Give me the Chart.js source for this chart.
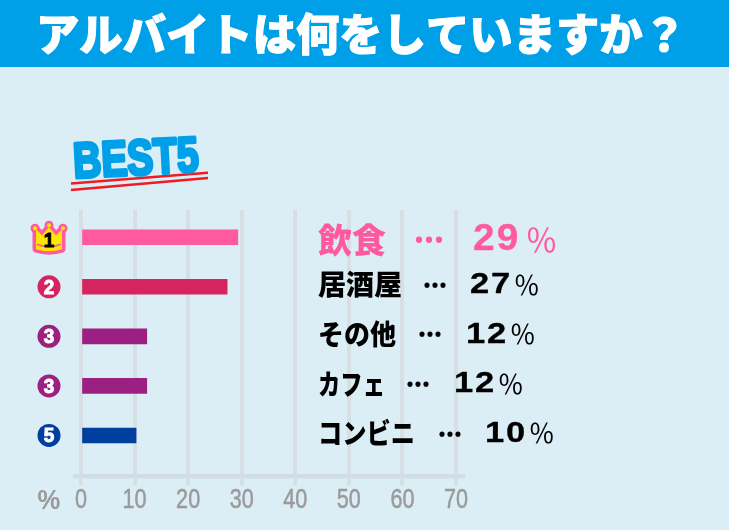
<!DOCTYPE html>
<html lang="ja">
<head>
<meta charset="utf-8">
<title>アルバイトは何をしていますか？</title>
<script src="https://cdn.jsdelivr.net/npm/chart.js@4"></script>
<style>
html, body { margin: 0; padding: 0; background: #dbeef6; }
#wrap { position: relative; width: 729px; height: 530px; overflow: hidden; }
</style>
</head>
<body>
<div id="wrap"><canvas id="chart" width="729" height="530"></canvas></div>
<script>
const titleText = 'アルバイトは何をしていますか？';
const bestText = 'BEST5';
const unitText = '%';
const categories = ['飲食', '居酒屋', 'その他', 'カフェ', 'コンビニ'];
const values = [29, 27, 12, 12, 10];
const ranks = [1, 2, 3, 3, 5];
const tickValues = [0, 10, 20, 30, 40, 50, 60, 70];

const barColors = ['#ff5a9e', '#d6245f', '#9c1f82', '#9c1f82', '#003f9e'];

// hand placed bits of each text row
const nameW = [69, 84, 78, 67, 97];
const dotsX = [414, 423, 418, 406, 438];
const numX = [473, 470, 466, 454, 485];
const gothic = '"Noto Sans CJK JP", sans-serif';
const latin = '"Liberation Sans", sans-serif';

// text squeezed sideways, the installed fonts have no condensed cut
function squeezed(ctx, text, x, y, sx, weight) {
    ctx.save();
    ctx.translate(x, y);
    ctx.scale(sx, 1);
    ctx.fillText(text, 0, 0);
    if (weight) {
        ctx.strokeStyle = ctx.fillStyle;
        ctx.lineWidth = weight;
        ctx.strokeText(text, 0, 0);
    }
    ctx.restore();
}

function drawCrown(ctx, cx, cy) {
    ctx.save();
    ctx.translate(cx, cy);
    const path = () => {
        ctx.beginPath();
        ctx.moveTo(-13, -9);
        ctx.lineTo(-7, -3);
        ctx.lineTo(0, -11);
        ctx.lineTo(7, -3);
        ctx.lineTo(13, -9);
        ctx.lineTo(13, 11);
        ctx.quadraticCurveTo(0, 15, -13, 11);
        ctx.closePath();
    };
    ctx.lineJoin = 'round';
    ctx.strokeStyle = '#ff5a9e';
    ctx.lineWidth = 7;
    path();
    ctx.stroke();
    [[-14, -10], [0, -13], [14, -10]].forEach(p => {
        ctx.fillStyle = '#ff5a9e';
        ctx.beginPath();
        ctx.arc(p[0], p[1], 4.5, 0, Math.PI * 2);
        ctx.fill();
        ctx.fillStyle = '#ffe600';
        ctx.beginPath();
        ctx.arc(p[0], p[1], 2, 0, Math.PI * 2);
        ctx.fill();
    });
    ctx.fillStyle = '#ffe600';
    path();
    ctx.fill();
    ctx.strokeStyle = '#ff5a9e';
    ctx.lineWidth = 1.5;
    ctx.beginPath();
    ctx.moveTo(-12, 6);
    ctx.quadraticCurveTo(0, 11, 12, 6);
    ctx.stroke();
    ctx.restore();
}

const decorPlugin = {
    id: 'decor',
    beforeDraw(chart) {
        const ctx = chart.ctx;
        ctx.save();
        ctx.fillStyle = '#dbeef6';
        ctx.fillRect(0, 0, chart.width, chart.height);
        ctx.fillStyle = '#00a0e9';
        ctx.fillRect(0, 0, chart.width, 67);
        ctx.fillStyle = '#ffffff';
        ctx.strokeStyle = '#ffffff';
        ctx.lineWidth = 1;
        ctx.font = '900 44px ' + gothic;
        ctx.textBaseline = 'middle';
        ctx.textAlign = 'left';
        ctx.fillText(titleText, 36, 34, 650);
        ctx.strokeText(titleText, 36, 34, 650);
        ctx.restore();

        // red scribble under BEST5
        ctx.save();
        ctx.strokeStyle = '#ee1c25';
        ctx.lineWidth = 2.6;
        ctx.beginPath();
        ctx.moveTo(71, 183.5);
        ctx.lineTo(208, 172.7);
        ctx.moveTo(71, 190);
        ctx.lineTo(208, 178);
        ctx.stroke();
        ctx.restore();

        ctx.save();
        ctx.translate(74, 178);
        ctx.rotate(-3 * Math.PI / 180);
        ctx.scale(0.78, 1);
        ctx.fillStyle = '#00a0e9';
        ctx.strokeStyle = '#00a0e9';
        ctx.lineWidth = 3.5;
        ctx.lineJoin = 'round';
        ctx.font = 'bold 50px ' + latin;
        ctx.textBaseline = 'alphabetic';
        ctx.fillText(bestText, 0, 0);
        ctx.strokeText(bestText, 0, 0);
        ctx.restore();
    },
    afterDraw(chart) {
        const ctx = chart.ctx;
        const y = chart.scales.y;
        const x = chart.scales.x;
        ctx.save();
        ctx.textBaseline = 'middle';
        ctx.textAlign = 'left';

        categories.forEach((name, i) => {
            const rowY = y.getPixelForValue(i);
            const first = i === 0;
            const textY = rowY + (first ? 2.5 : -2);
            ctx.fillStyle = first ? barColors[0] : '#000000';
            ctx.letterSpacing = '0px';
            ctx.font = '900 ' + (first ? 34 : 28) + 'px ' + gothic;
            ctx.fillText(name, 318, textY, nameW[i]);
            ctx.font = '900 ' + (first ? 30 : 24) + 'px ' + gothic;
            squeezed(ctx, '…', dotsX[i], textY, 1, 0.8);
            const sx = first ? 1.05 : 1.15;
            ctx.font = 'bold ' + (first ? 37 : 30) + 'px ' + latin;
            ctx.letterSpacing = (first ? 2 : 1.5) + 'px';
            squeezed(ctx, String(values[i]), numX[i], textY, sx, 0.3);
            const numW = ctx.measureText(String(values[i])).width * sx;
            ctx.letterSpacing = '0px';
            ctx.font = (first ? 32 : 26) + 'px ' + gothic;
            ctx.fillText('％', numX[i] + numW + (first ? 5 : 2), textY);

            // rank marks
            if (ranks[i] === 1) {
                drawCrown(ctx, 49, rowY + 1);
                ctx.fillStyle = '#000000';
            } else {
                ctx.fillStyle = barColors[i];
                ctx.beginPath();
                ctx.arc(49, rowY, 11.5, 0, Math.PI * 2);
                ctx.fill();
                ctx.fillStyle = '#ffffff';
            }
            ctx.textAlign = 'center';
            ctx.font = '900 21px ' + latin;
            squeezed(ctx, String(ranks[i]), 49, rowY + (ranks[i] === 1 ? 4 : 1), 0.9, 1);
            ctx.textAlign = 'left';
        });

        // tick labels are squeezed too, so they are drawn here from the scale
        ctx.fillStyle = '#9a9a9a';
        ctx.font = '27px ' + latin;
        ctx.textAlign = 'center';
        tickValues.forEach(v => {
            squeezed(ctx, String(v), x.getPixelForValue(v), 501, 0.8, 0.5);
        });
        ctx.font = 'bold 27px ' + latin;
        squeezed(ctx, unitText, 49, 502, 0.95);
        ctx.restore();
    }
};

new Chart(document.getElementById('chart').getContext('2d'), {
    type: 'bar',
    data: {
        labels: categories,
        datasets: [{
            data: values.map((v, i) => ({ x: v, y: i })),
            backgroundColor: barColors,
            barThickness: 15,
            xAxisID: 'xBars',
            yAxisID: 'y'
        }]
    },
    options: {
        indexAxis: 'y',
        responsive: false,
        animation: false,
        layout: { padding: { left: 75, right: 266, top: 210, bottom: 44.5 } },
        plugins: {
            legend: { display: false },
            title: { display: false },
            tooltip: { enabled: false }
        },
        scales: {
            x: {
                type: 'linear',
                position: 'bottom',
                min: -1.12,
                max: 71.31,
                afterBuildTicks(axis) {
                    axis.ticks = tickValues.map(v => ({ value: v }));
                },
                grid: { color: '#d6dfe4', lineWidth: 4, tickLength: 9, tickColor: '#d6dfe4' },
                border: { color: '#d2dde3', width: 4.5 },
                ticks: { display: false, padding: 0 }
            },
            // same pixels per unit, bars start just right of the zero line
            xBars: {
                type: 'linear',
                display: false,
                min: -1.40,
                max: 71.03
            },
            y: {
                type: 'linear',
                display: false,
                reverse: true,
                offset: false,
                min: -0.549,
                max: 4.828
            }
        }
    },
    plugins: [decorPlugin]
});
</script>
</body>
</html>
